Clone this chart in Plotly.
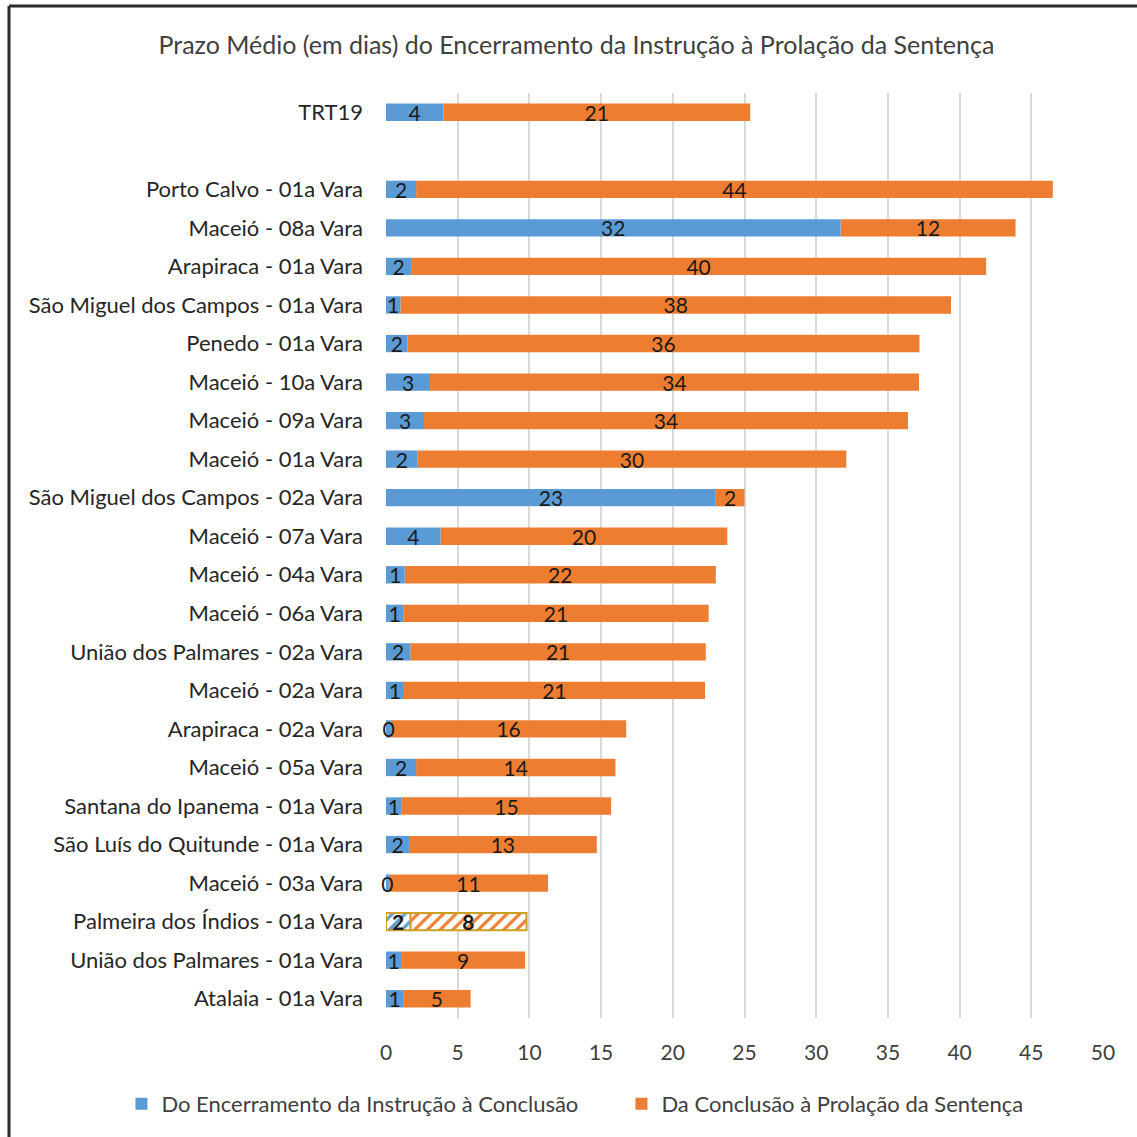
import plotly.graph_objects as go

title = "Prazo Médio (em dias) do Encerramento da Instrução à Prolação da Sentença"
series_names = ["Do Encerramento da Instrução à Conclusão", "Da Conclusão à Prolação da Sentença"]

categories = [
    "TRT19",
    " ",
    "Porto Calvo - 01a Vara",
    "Maceió - 08a Vara",
    "Arapiraca - 01a Vara",
    "São Miguel dos Campos - 01a Vara",
    "Penedo - 01a Vara",
    "Maceió - 10a Vara",
    "Maceió - 09a Vara",
    "Maceió - 01a Vara",
    "São Miguel dos Campos - 02a Vara",
    "Maceió - 07a Vara",
    "Maceió - 04a Vara",
    "Maceió - 06a Vara",
    "União dos Palmares - 02a Vara",
    "Maceió - 02a Vara",
    "Arapiraca - 02a Vara",
    "Maceió - 05a Vara",
    "Santana do Ipanema - 01a Vara",
    "São Luís do Quitunde - 01a Vara",
    "Maceió - 03a Vara",
    "Palmeira dos Índios - 01a Vara",
    "União dos Palmares - 01a Vara",
    "Atalaia - 01a Vara",
]

encerramento_conclusao = [4.0, None, 2.1, 31.7, 1.75, 1.0, 1.5, 3.07, 2.65, 2.2, 23.0, 3.8, 1.3, 1.2, 1.7, 1.25,
                          0.35, 2.1, 1.1, 1.6, 0.2, 1.7, 1.05, 1.2]
conclusao_prolacao = [21.4, None, 44.4, 12.2, 40.1, 38.4, 35.7, 34.1, 33.75, 29.9, 2.0, 20.0, 21.7, 21.3, 20.6, 21.0,
                      16.4, 13.9, 14.6, 13.1, 11.1, 8.1, 8.65, 4.7]

highlight = "Palmeira dos Índios - 01a Vara"
x_ticks = [0, 5, 10, 15, 20, 25, 30, 35, 40, 45, 50]

BLUE = "#5B9BD5"
ORANGE = "#ED7D31"
GOLD = "#C9A020"
FONT = "Lato"


def labels(vals):
    out = []
    for c, v in zip(categories, vals):
        if v is None:
            out.append("")
        elif c == highlight:
            out.append(f"<b>{round(v)}</b>")
        else:
            out.append(f"{round(v)}")
    return out


def style_arrays(color):
    shapes, fgs, bgs, lw, lc = [], [], [], [], []
    for c in categories:
        if c == highlight:
            shapes.append("/")
            fgs.append(color)
            bgs.append("white")
            lw.append(2)
            lc.append(GOLD)
        else:
            shapes.append("")
            fgs.append(color)
            bgs.append(color)
            lw.append(0)
            lc.append(color)
    return shapes, fgs, bgs, lw, lc


# orange segments start where the blue ones end
orange_base = [b if b is not None else None for b in encerramento_conclusao]

fig = go.Figure()
# draw orange first so that the blue labels (incl. the tiny "0" ones) stay on top
for name, vals, base, color, rank in [(series_names[1], conclusao_prolacao, orange_base, ORANGE, 2),
                                      (series_names[0], encerramento_conclusao, None, BLUE, 1)]:
    shapes, fgs, bgs, lw, lc = style_arrays(color)
    fig.add_trace(go.Bar(
        y=categories, x=vals, base=base, name=name, orientation="h", legendrank=rank,
        marker=dict(color=color,
                    pattern=dict(shape=shapes, fgcolor=fgs, bgcolor=bgs, size=9, solidity=0.35, fillmode="replace"),
                    line=dict(width=lw, color=lc)),
        text=labels(vals), textposition="inside", insidetextanchor="middle", textangle=0,
        constraintext="none", cliponaxis=False,
        textfont=dict(family=FONT, size=21, color="#1a1a1a"),
        hoverinfo="x+y",
    ))

fig.update_layout(
    barmode="overlay",
    bargap=0.55,
    width=1137, height=1137,
    margin=dict(l=386, r=34, t=93, b=119),
    paper_bgcolor="white", plot_bgcolor="white",
    font=dict(family=FONT, color="#404040"),
    title=dict(text=title, x=0.507, xref="container", y=1 - 45 / 1137, yref="container",
               xanchor="center", yanchor="middle", font=dict(family=FONT, size=25, color="#404040")),
    legend=dict(orientation="h", x=-0.369, xanchor="left", y=-0.093, yanchor="middle",
                entrywidth=455, entrywidthmode="pixels",
                font=dict(family=FONT, size=22, color="#404040")),
    showlegend=True,
    shapes=[
        dict(type="line", xref="paper", yref="paper", x0=-0.5258, x1=1.2, y0=1.094, y1=1.094,
             line=dict(color="#2b2b2b", width=3)),
        dict(type="line", xref="paper", yref="paper", x0=-0.5258, x1=-0.5258, y0=1.094, y1=-0.2,
             line=dict(color="#2b2b2b", width=3)),
    ],
)

fig.update_xaxes(range=[0, 50], tickvals=x_ticks, showgrid=True, gridcolor="#D9D9D9", gridwidth=1.5,
                 zeroline=False, showline=False, ticks="", tickfont=dict(family=FONT, size=21, color="#404040"),
                 ticklabelstandoff=20, fixedrange=True)
fig.update_yaxes(type="category", categoryorder="array", categoryarray=categories, autorange="reversed",
                 showgrid=False, showline=False, ticks="", ticklabelstandoff=22,
                 tickfont=dict(family=FONT, size=22, color="#262626"), fixedrange=True)

fig.write_html("out.html")
